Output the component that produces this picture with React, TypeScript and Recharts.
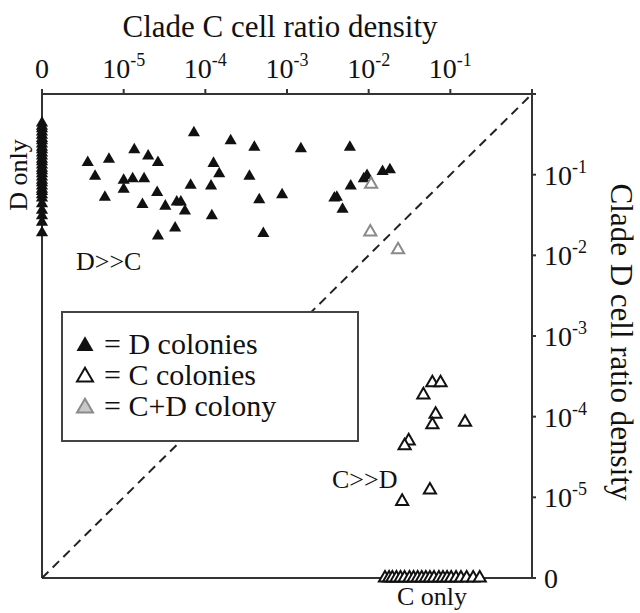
import { ScatterChart, Scatter, XAxis, YAxis, ZAxis, ReferenceLine } from 'recharts';

// All positions are log10 of the cell ratio density; -6 stands for a density of 0
const axisTicks = [-6, -5, -4, -3, -2, -1, 0];
const topTickLabels = ['0', '-5', '-4', '-3', '-2', '-1', ''];
const rightTickLabels = ['0', '-5', '-4', '-3', '-2', '-1', ''];

// [clade C, clade D]
const dColonies: [number, number][] = [
  [-4.14, -0.48], [-3.69, -0.58], [-3.40, -0.66], [-2.83, -0.68], [-4.87, -0.69],
  [-4.70, -0.77], [-5.18, -0.81], [-5.44, -0.85], [-4.58, -0.85], [-3.90, -0.86],
  [-3.83, -0.99], [-5.35, -1.02], [-5.00, -1.07], [-4.89, -1.05], [-4.75, -1.05],
  [-3.46, -1.02], [-4.18, -1.13], [-3.93, -1.14], [-5.00, -1.18], [-4.59, -1.22],
  [-5.23, -1.28], [-3.06, -1.25], [-3.34, -1.31], [-4.77, -1.37], [-4.35, -1.34],
  [-4.30, -1.34], [-4.49, -1.39], [-4.25, -1.45], [-3.92, -1.51], [-4.37, -1.66],
  [-4.58, -1.76], [-3.29, -1.73], [-2.23, -0.66], [-2.02, -1.01], [-2.06, -1.05],
  [-1.83, -0.96], [-1.74, -0.94], [-2.22, -1.14], [-2.42, -1.29], [-2.39, -1.28],
  [-2.32, -1.43],
];

// D only colonies (clade C = 0): clade D values
const dOnly = [
  -0.36, -0.40, -0.43, -0.47, -0.51, -0.55, -0.58, -0.62, -0.66, -0.69, -0.73,
  -0.77, -0.81, -0.84, -0.88, -0.92, -0.95, -0.99, -1.03, -1.07, -1.10, -1.14,
  -1.18, -1.21, -1.25, -1.29, -1.36, -1.44, -1.51, -1.59, -1.72,
];

const cColonies: [number, number][] = [
  [-1.22, -3.58], [-1.12, -3.58], [-1.33, -3.73], [-1.18, -3.97], [-1.22, -4.10],
  [-0.82, -4.07], [-1.51, -4.30], [-1.56, -4.36], [-1.25, -4.91], [-1.59, -5.05],
];

// C only colonies (clade D = 0): clade C values
const cOnly = [
  -1.80, -1.75, -1.71, -1.66, -1.61, -1.56, -1.50, -1.45, -1.40, -1.35, -1.30,
  -1.25, -1.20, -1.14, -1.09, -1.04, -0.99, -0.93, -0.87, -0.80, -0.72, -0.64,
];

const cdColonies: [number, number][] = [
  [-1.97, -1.12], [-1.98, -1.71], [-1.64, -1.93],
];

const FONT = "'Liberation Serif', 'Times New Roman', Times, serif";
const INK = '#111';

const dData = [
  ...dColonies.map(([c, d]) => ({ c, d })),
  ...dOnly.map((d) => ({ c: -6, d })),
];
const cData = [
  ...cColonies.map(([c, d]) => ({ c, d })),
  ...cOnly.map((c) => ({ c, d: -6 })),
];
const cdData = cdColonies.map(([c, d]) => ({ c, d }));

const TopTick = ({ x, y, payload }: any) => {
  const label = topTickLabels[axisTicks.indexOf(payload.value)];
  if (!label) return null;
  return (
    <text x={x} y={y - 9} textAnchor="middle" style={{ fontFamily: FONT, fontSize: 28 }} fill={INK}>
      {label === '0' ? '0' : (
        <>
          10<tspan dy={-12} style={{ fontSize: 18 }}>{label}</tspan>
        </>
      )}
    </text>
  );
};

const RightTick = ({ x, y, payload }: any) => {
  const label = rightTickLabels[axisTicks.indexOf(payload.value)];
  if (!label) return null;
  return (
    <text x={x + 6} y={y + 10} textAnchor="start" style={{ fontFamily: FONT, fontSize: 28 }} fill={INK}>
      {label === '0' ? '0' : (
        <>
          10<tspan dy={-12} style={{ fontSize: 18 }}>{label}</tspan>
        </>
      )}
    </text>
  );
};

const tri = (cx: number, cy: number, s: number) => {
  const h = (s * Math.sqrt(3)) / 2;
  return `M${cx},${cy - (2 * h) / 3} L${cx + s / 2},${cy + h / 3} L${cx - s / 2},${cy + h / 3} Z`;
};

const txt = (size: number) => ({ fontFamily: FONT, fontSize: size });

export default function App() {
  return (
    <div style={{ position: 'absolute', left: 0, top: 0, width: 640, height: 613, background: '#fff', fontFamily: FONT }}>
      <ScatterChart width={640} height={613} margin={{ top: 34, right: 18, bottom: 35, left: 42 }}>
        <XAxis
          xAxisId="top"
          orientation="top"
          type="number"
          dataKey="c"
          domain={[-6, 0]}
          ticks={axisTicks}
          height={60}
          tickSize={5}
          tick={<TopTick />}
          axisLine={{ stroke: '#333', strokeWidth: 2 }}
          tickLine={{ stroke: '#333', strokeWidth: 2 }}
        />
        <YAxis
          yAxisId="right"
          orientation="right"
          type="number"
          dataKey="d"
          domain={[-6, 0]}
          ticks={axisTicks}
          width={90}
          tickSize={4}
          tick={<RightTick />}
          axisLine={{ stroke: '#333', strokeWidth: 2 }}
          tickLine={{ stroke: '#333', strokeWidth: 2 }}
        />
        <ZAxis type="number" range={[68, 68]} />
        <ReferenceLine xAxisId="top" yAxisId="right" x={-6} stroke="#333" strokeWidth={2} />
        <ReferenceLine xAxisId="top" yAxisId="right" y={-6} stroke="#333" strokeWidth={2} />
        <ReferenceLine
          xAxisId="top"
          yAxisId="right"
          segment={[{ x: -6, y: -6 }, { x: 0, y: 0 }]}
          stroke="#222"
          strokeWidth={2}
          strokeDasharray="9 6"
        />
        <Scatter
          xAxisId="top"
          yAxisId="right"
          data={cData}
          shape="triangle"
          fill="#fff"
          stroke={INK}
          strokeWidth={2}
          isAnimationActive={false}
        />
        <Scatter
          xAxisId="top"
          yAxisId="right"
          data={dData}
          shape="triangle"
          fill={INK}
          isAnimationActive={false}
        />
        <Scatter
          xAxisId="top"
          yAxisId="right"
          data={cdData}
          shape="triangle"
          fill="#fff"
          stroke="#8a8a8a"
          strokeWidth={2}
          isAnimationActive={false}
        />
      </ScatterChart>

      {/* titles, region notes and the boxed key */}
      <svg
        width={640}
        height={613}
        style={{ position: 'absolute', left: 0, top: 0, pointerEvents: 'none' }}
        fill={INK}
      >
        <text x={280} y={37} textAnchor="middle" style={txt(31)}>Clade C cell ratio density</text>
        <text x={611} y={342} textAnchor="middle" style={txt(31)} transform="rotate(90 611 342)">
          Clade D cell ratio density
        </text>
        <text x={27} y={175} textAnchor="middle" style={txt(26)} transform="rotate(-90 27 175)">D only</text>
        <text x={76} y={270} style={txt(26)}>D&gt;&gt;C</text>
        <text x={332} y={488} style={txt(26)}>C&gt;&gt;D</text>
        <text x={432} y={605} textAnchor="middle" style={txt(26)}>C only</text>

        <rect x={62} y={312} width={296} height={129} fill="#fff" stroke="#444" strokeWidth={2} />
        <path d={tri(85, 346, 17)} fill={INK} />
        <path d={tri(85, 377, 16)} fill="#fff" stroke={INK} strokeWidth={2} />
        <path d={tri(85, 408, 16)} fill="#c8c8c8" stroke="#8a8a8a" strokeWidth={2} />
        <text x={104} y={354} style={txt(30)}>= D colonies</text>
        <text x={104} y={385} style={txt(30)}>= C colonies</text>
        <text x={104} y={416} style={txt(30)}>= C+D colony</text>
      </svg>
    </div>
  );
}
